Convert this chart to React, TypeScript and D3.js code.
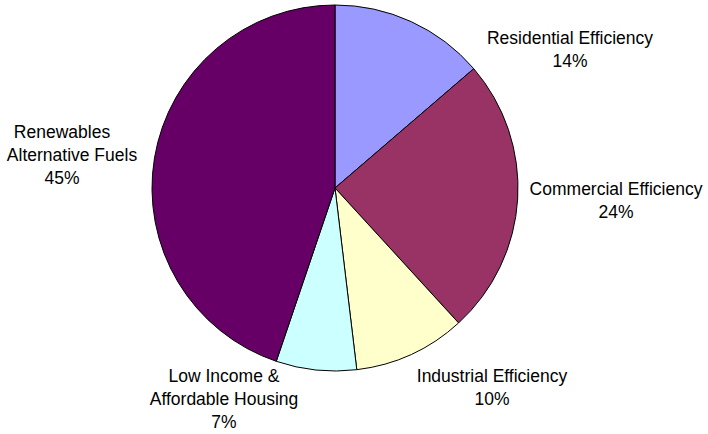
import React from "react";
import * as d3 from "d3";

const categories = [
  "Residential Efficiency",
  "Commercial Efficiency",
  "Industrial Efficiency",
  "Low Income & Affordable Housing",
  "Renewables Alternative Fuels",
];
const values = [13.7, 24.5, 9.9, 7.1, 44.8];
const labelLines = [
  ["Residential Efficiency", "14%"],
  ["Commercial Efficiency", "24%"],
  ["Industrial Efficiency", "10%"],
  ["Low Income &", "Affordable Housing", "7%"],
  ["Renewables", "Alternative Fuels", "45%"],
];
const colors = ["#9999FF", "#993366", "#FFFFCC", "#CCFFFF", "#660066"];

// label anchor positions (center x, first baseline y) and per-line x offsets
const labelPos = [
  { x: 570, y: 44, dx: [0, 0] },
  { x: 616, y: 195, dx: [0, 0] },
  { x: 492, y: 382, dx: [0, 0] },
  { x: 224, y: 382, dx: [0, 0, 0] },
  { x: 62, y: 138, dx: [0, 10, 0] },
];

export default function App() {
  const W = 708, H = 434;
  const cx = 335, cy = 188, r = 183;
  const pie = d3.pie<number>().sort(null).value((d) => d);
  const arcs = pie(values);
  const arc = d3.arc<d3.PieArcDatum<number>>().innerRadius(0).outerRadius(r);
  const lh = 23;
  return (
    <svg width={W} height={H} style={{ position: "absolute", left: 0, top: 0, background: "#fff" }}
      fontFamily="'Liberation Sans', Arial, sans-serif">
      <g transform={`translate(${cx},${cy})`}>
        {arcs.map((a, i) => (
          <path key={categories[i]} d={arc(a) || ""} fill={colors[i]} stroke="#000" strokeWidth={1} strokeLinejoin="round" />
        ))}
      </g>
      {labelLines.map((lines, i) => (
        <text key={i} fontSize={17.5} fill="#000" textAnchor="middle">
          {lines.map((l, j) => (
            <tspan key={j} x={labelPos[i].x + labelPos[i].dx[j]} y={labelPos[i].y + j * lh}>{l}</tspan>
          ))}
        </text>
      ))}
    </svg>
  );
}
